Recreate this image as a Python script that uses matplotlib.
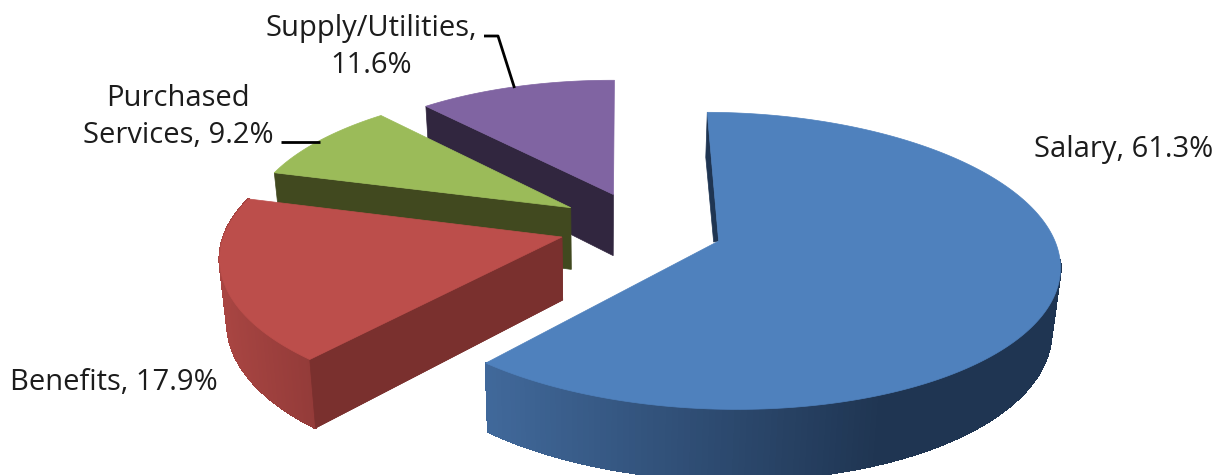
import numpy as np
import matplotlib
matplotlib.use('Agg')
import matplotlib.pyplot as plt
from matplotlib.collections import PolyCollection
from matplotlib.colors import to_rgb

# budget shares, in the order they go round the pie
categories = ['Salary', 'Benefits', 'Purchased\nServices', 'Supply/Utilities']
shares = [61.3, 17.9, 9.2, 11.6]
separators = [', ', ', ', ', ', ',\n']

top_colors = ['#4f81bd', '#bc4e4b', '#9bbb59', '#8064a2']
cut_colors = ['#1f3552', '#7a302e', '#41491f', '#31263f']
wall_left = ['#41699b', '#a84542', '#41491f', '#31263f']
wall_right = ['#1f3552', '#933b39', '#41491f', '#31263f']

# explode offset in the pie's plane, and radius scale of each slice
explode_x = [118, -38, -30, 14]
explode_y = [-6, -2, 28, 42]
slice_scale = [0.975, 0.985, 0.955, 0.935]
draw_order = [3, 2, 1, 0]

start_angle = 0.5
center_x, center_y = 600, 235
radius_x, radius_y = 343, 148
persp = 0.136


def project(i, theta, r=1.0):
    # plane coordinates -> picture, farther points come out smaller
    s = slice_scale[i] * r
    u = s * np.sin(np.radians(theta))
    v = s * np.cos(np.radians(theta))
    w = 1 + persp * (explode_y[i] / radius_y + v)
    x = center_x + (explode_x[i] + radius_x * u) / w
    y = center_y - (explode_y[i] + radius_y * v) / w
    return x, y


def drop(x, y):
    # where a point of the top face lands on the bottom face
    return x + (center_x - x) * 0.02, y + 63 + 0.045 * (y - 237)


def mix(c1, c2, t):
    return tuple(a + (b - a) * t for a, b in zip(to_rgb(c1), to_rgb(c2)))


fig = plt.figure(figsize=(12.18, 4.75), dpi=100)
ax = fig.add_axes([0, 0, 1, 1])
ax.set_xlim(0, 1218)
ax.set_ylim(475, 0)
ax.axis('off')

angles = np.cumsum([0] + shares) * 3.6 + start_angle

for i in draw_order:
    t = np.linspace(angles[i], angles[i + 1], 240)
    rx, ry = project(i, t)
    lx, ly = drop(rx, ry)
    ax0, ay0 = project(i, 0, 0)
    bx0, by0 = drop(ax0, ay0)
    z = 2 + 3 * (3 - i)

    # cut face toward the viewer
    cut = np.array([[rx[0], ry[0]], [ax0, ay0], [bx0, by0], [lx[0], ly[0]]])
    if i == 0:
        # salary: only a sliver of the far cut shows beside the top face
        cut = np.array([[rx[0], ry[0]], [ax0, ay0], [ax0 - 5, ay0 + 1], [rx[0] - 1.5, ry[0] + 45]])
    ax.fill(cut[:, 0], cut[:, 1], color=cut_colors[i], lw=0.5, zorder=z)

    # outer wall, shaded along x
    quads = []
    cols = []
    for j in range(len(t) - 1):
        # the part of the rim behind the top face stays hidden
        if i == 0 and t[j] < 97:
            continue
        quads.append([[rx[j], ry[j]], [rx[j + 1], ry[j + 1]], [lx[j + 1], ly[j + 1]], [lx[j], ly[j]]])
        if i == 0:
            f = np.clip((rx[j] - 484) / 400, 0, 1)
        else:
            f = np.clip((rx[j] - 221) / 90, 0, 1)
        cols.append(mix(wall_left[i], wall_right[i], f))
    if i <= 1:
        ax.add_collection(PolyCollection(quads, facecolors=cols, edgecolors=cols, linewidths=1.0,
                                         antialiaseds=False, zorder=z))
    if i == 1:
        # the wall runs over the cut face at the near corner
        ax.fill(cut[:, 0], cut[:, 1], color=cut_colors[i], lw=0.5, zorder=z + 0.5)

    # top face
    fx = np.concatenate([[ax0], rx])
    fy = np.concatenate([[ay0], ry])
    ax.fill(fx, fy, color=top_colors[i], lw=0.5, zorder=z + 1)

# data labels
font = ['Open Sans', 'DejaVu Sans']
label_pos = [(1034, 149, 'left'), (10, 382, 'left'), (178, 117, 'center'), (371, 47, 'center')]
for i, (x, y, ha) in enumerate(label_pos):
    txt = categories[i] + separators[i] + f'{shares[i]:.1f}%'
    ax.text(x, y, txt, ha=ha, va='center', family=font, fontsize=21, color='#1c1c1c',
            linespacing=1.33, zorder=30)

# leader lines
ax.plot([281, 320], [142, 142], color='black', lw=2, zorder=31, solid_capstyle='butt')
ax.plot([484, 498, 514.5], [36, 36, 88], color='black', lw=2, zorder=31, solid_capstyle='butt')

fig.savefig('out.png', dpi=100, facecolor='white')
